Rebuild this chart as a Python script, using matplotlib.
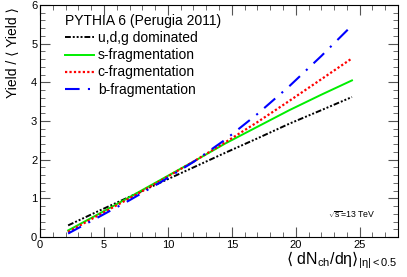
import numpy as np
import matplotlib
matplotlib.use("Agg")
import matplotlib.pyplot as plt
from matplotlib.ticker import MultipleLocator

plt.rcParams['font.family'] = ['Liberation Sans', 'DejaVu Sans']
plt.rcParams['mathtext.fontset'] = 'custom'
plt.rcParams['mathtext.rm'] = 'Liberation Sans'
plt.rcParams['mathtext.it'] = 'Liberation Sans'
plt.rcParams['mathtext.sf'] = 'DejaVu Sans'

# <dNch/deta> classes
mult = [2.2, 4.5, 7.0, 9.5, 12.0, 14.5, 17.0, 19.5, 22.0, 24.4]

# self-normalised yields
udg = [0.30, 0.66, 1.04, 1.42, 1.80, 2.18, 2.55, 2.93, 3.28, 3.62]
s_frag = [0.17, 0.58, 1.03, 1.49, 1.95, 2.42, 2.85, 3.28, 3.68, 4.05]
c_frag = [0.13, 0.55, 1.00, 1.47, 1.95, 2.45, 2.97, 3.52, 4.08, 4.62]
b_frag = [0.09, 0.50, 0.95, 1.43, 1.94, 2.52, 3.18, 3.90, 4.68, 5.47]

labels = ["u,d,g dominated", "s-fragmentation", "c-fragmentation", "b-fragmentation"]

fig = plt.figure(figsize=(4.07, 2.77), dpi=100)
ax = fig.add_axes([40/407, 40/277, 358/407, 232/277])

ax.plot(mult, udg, color='black', lw=1.4, dashes=(3, 1, 1, 1, 1, 1, 1, 1), label=labels[0])
ax.plot(mult, s_frag, color='#00ee00', lw=1.4, label=labels[1])
ax.plot(mult, c_frag, color='red', lw=1.6, dashes=(1, 1), label=labels[2])
ax.plot(mult, b_frag, color='blue', lw=1.5, dashes=(7, 4, 1, 4), label=labels[3])

ax.set_xlim(0, 28)
ax.set_ylim(0, 6)
ax.xaxis.set_major_locator(MultipleLocator(5))
ax.xaxis.set_minor_locator(MultipleLocator(1))
ax.yaxis.set_major_locator(MultipleLocator(1))
ax.yaxis.set_minor_locator(MultipleLocator(0.2))
ax.tick_params(which='both', direction='in', top=True, right=True, labelsize=8, color='#555555', pad=2)
ax.tick_params(which='major', length=7)
ax.tick_params(which='minor', length=3.5)
ax.set_xticks([0, 5, 10, 15, 20, 25])
ax.set_xticklabels(['0', '5', '10', '15', '20', '25'])

ax.set_ylabel('Yield / \u27e8 Yield \u27e9', fontsize=10, ha='right', va='center')
ax.yaxis.set_label_coords(-0.075, 0.99)
ax.set_xlabel('$\\mathsf{\u27e8}$ dN$_{ch}$/d\u03b7$\\mathsf{\u27e9}_{|\\eta|<0.5}$', fontsize=11.5, ha='right', va='top')
ax.xaxis.set_label_coords(1.0, -0.055)

leg = ax.legend(loc='upper left', bbox_to_anchor=(0.07, 0.96), frameon=False, fontsize=10,
                title='PYTHIA 6 (Perugia 2011)', title_fontsize=10, handlelength=2.1,
                handletextpad=0.25, labelspacing=0.22, borderaxespad=0, borderpad=0)
leg._legend_box.align = 'left'

ax.text(0.805, 0.08, r'$\sqrt{s}$=13 TeV', transform=ax.transAxes, fontsize=6.3, ha='left')

fig.savefig("out.png", dpi=100)
